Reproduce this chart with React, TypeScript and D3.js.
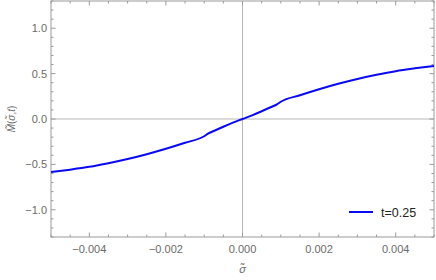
import React from 'react';
import * as d3 from 'd3';

// sigma (in units of 1e-3) and M values; curve is odd-symmetric
const sigmaPos = [0, 0.25, 0.5, 0.75, 0.9, 1.0, 1.5, 2.0, 2.5, 3.0, 3.5, 4.0, 4.5, 5.0];
const mPos = [0, 0.04, 0.085, 0.132, 0.162, 0.19, 0.262, 0.328, 0.388, 0.441, 0.487, 0.527, 0.558, 0.585];

const xTicks = [-0.004, -0.002, 0, 0.002, 0.004];
const yTicks = [-1.0, -0.5, 0, 0.5, 1.0];
const legendLabel = 't=0.25';

const W = 436;
const H = 280;
const margin = { left: 51, right: 2, top: 1, bottom: 43 };

const frameColor = '#9a9a9a';
const textColor = '#6a6a6a';

export default function App() {
  const x = d3.scaleLinear().domain([-0.005, 0.005]).range([margin.left, W - margin.right]);
  const y = d3.scaleLinear().domain([-1.3, 1.3]).range([H - margin.bottom, margin.top]);

  // build full curve from the positive half
  const points: [number, number][] = [];
  for (let i = sigmaPos.length - 1; i > 0; i--) points.push([-sigmaPos[i] / 1000, -mPos[i]]);
  for (let i = 0; i < sigmaPos.length; i++) points.push([sigmaPos[i] / 1000, mPos[i]]);

  const line = d3
    .line<[number, number]>()
    .x((d) => x(d[0]))
    .y((d) => y(d[1]))
    .curve(d3.curveMonotoneX);

  const xMinor = d3.range(-0.005, 0.00501, 0.0005);
  const yMinor = d3.range(-1.3, 1.301, 0.1);
  const isMajorX = (v: number) => xTicks.some((t) => Math.abs(t - v) < 1e-9);
  const isMajorY = (v: number) => yTicks.some((t) => Math.abs(t - v) < 1e-9);

  const x0 = x.range()[0];
  const x1 = x.range()[1];
  const y0 = y.range()[0];
  const y1 = y.range()[1];

  const fmtX = (v: number) => (v === 0 ? '0.000' : d3.format('.3f')(v).replace('-', '−'));
  const fmtY = (v: number) => d3.format('.1f')(v).replace('-', '−');

  return (
    <svg
      width={W}
      height={H}
      style={{ position: 'absolute', left: 0, top: 0, fontFamily: 'Liberation Sans, Arial, sans-serif' }}
    >
      <rect width={W} height={H} fill="white" />
      {/* origin lines */}
      <line x1={x(0)} x2={x(0)} y1={y1} y2={y0} stroke="#b8b8b8" strokeWidth={1} />
      <line x1={x0} x2={x1} y1={y(0)} y2={y(0)} stroke="#b8b8b8" strokeWidth={1} />

      {/* ticks on all four sides */}
      {xMinor.map((v, i) => {
        const len = isMajorX(v) ? 4.5 : 2.5;
        return (
          <g key={'xt' + i} stroke={frameColor} strokeWidth={1}>
            <line x1={x(v)} x2={x(v)} y1={y0} y2={y0 - len} />
            <line x1={x(v)} x2={x(v)} y1={y1} y2={y1 + len} />
          </g>
        );
      })}
      {yMinor.map((v, i) => {
        const len = isMajorY(v) ? 4.5 : 2.5;
        return (
          <g key={'yt' + i} stroke={frameColor} strokeWidth={1}>
            <line x1={x0} x2={x0 + len} y1={y(v)} y2={y(v)} />
            <line x1={x1} x2={x1 - len} y1={y(v)} y2={y(v)} />
          </g>
        );
      })}

      {/* frame */}
      <rect x={x0} y={y1} width={x1 - x0} height={y0 - y1} fill="none" stroke={frameColor} strokeWidth={1} />

      {/* tick labels */}
      {xTicks.map((v) => (
        <text key={'xl' + v} x={x(v)} y={y0 + 16} textAnchor="middle" fontSize={11} fill={textColor}>
          {fmtX(v)}
        </text>
      ))}
      {yTicks.map((v) => (
        <text key={'yl' + v} x={x0 - 4} y={y(v) + 4} textAnchor="end" fontSize={11} fill={textColor}>
          {fmtY(v)}
        </text>
      ))}

      {/* axis labels */}
      <text x={x(0)} y={273} textAnchor="middle" fontSize={11} fontStyle="italic" fill={textColor}>
        σ̃
      </text>
      <text
        transform={`translate(15, ${y(0)}) rotate(-90)`}
        textAnchor="middle"
        fontSize={10}
        fill={textColor}
      >
        <tspan fontStyle="italic">M̃</tspan>(<tspan fontStyle="italic">σ̃</tspan>,<tspan fontStyle="italic">t</tspan>)
      </text>

      {/* curve */}
      <path d={line(points) ?? ''} fill="none" stroke="#0a0af0" strokeWidth={2} />

      {/* legend */}
      <line x1={349} x2={373} y1={212} y2={212} stroke="#0a0af0" strokeWidth={2} />
      <text x={381} y={216.5} fontSize={12.5} fill="#222">
        {legendLabel}
      </text>
    </svg>
  );
}
